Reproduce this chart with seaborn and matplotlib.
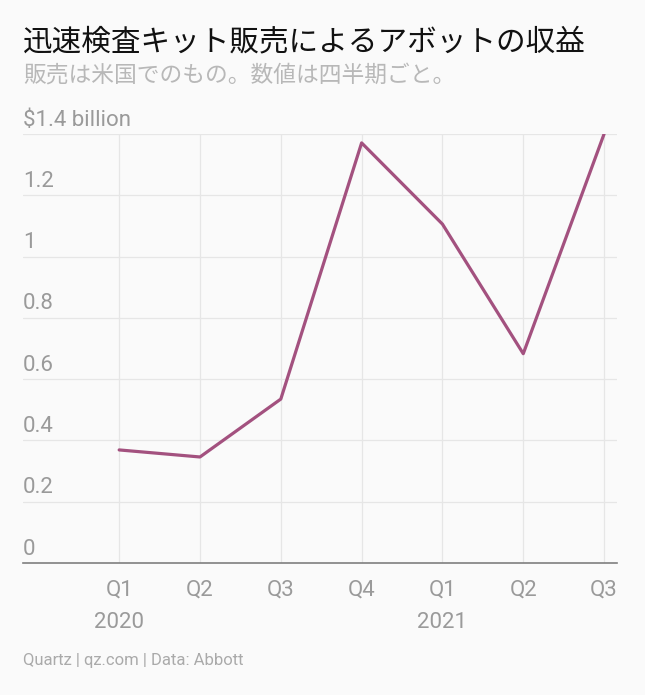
import matplotlib
matplotlib.use("Agg")
import matplotlib.pyplot as plt
import matplotlib.transforms as mtransforms
import seaborn as sns
import pandas as pd

quarters = ["Q1", "Q2", "Q3", "Q4", "Q1", "Q2", "Q3"]
years = ["2020", "", "", "", "2021", "", ""]
revenue = [0.369, 0.346, 0.535, 1.371, 1.106, 0.683, 1.40]
y_ticks = [0, 0.2, 0.4, 0.6, 0.8, 1.0, 1.2, 1.4]
y_tick_labels = ["0", "0.2", "0.4", "0.6", "0.8", "1", "1.2", "$1.4 billion"]

title = "迅速検査キット販売によるアボットの収益"
subtitle = "販売は米国でのもの。数値は四半期ごと。"
footer = "Quartz | qz.com | Data: Abbott"

bg = "#fafafa"
line_color = "#a3517f"
grid_color = "#e6e6e6"
label_color = "#9a9a9a"

sns.set_theme(style="white")
plt.rcParams["font.family"] = ["Roboto", "Noto Sans CJK JP", "DejaVu Sans"]

df = pd.DataFrame({"idx": list(range(len(revenue))), "revenue": revenue})

fig = plt.figure(figsize=(6.45, 6.95), dpi=100, facecolor=bg)
ax = fig.add_axes([23 / 645, 1 - 563 / 695, (617 - 23) / 645, (563 - 134) / 695])
ax.set_facecolor(bg)

sns.lineplot(data=df, x="idx", y="revenue", ax=ax, color=line_color, linewidth=2.3, zorder=3)

ax.set_xlim(-1.19, 6.16)
ax.set_ylim(0, 1.4)

# grid
for v in y_ticks[1:]:
    ax.axhline(v, color=grid_color, linewidth=0.9, zorder=1)
for i in range(len(quarters)):
    ax.axvline(i, color=grid_color, linewidth=0.9, zorder=1)

for s in ["top", "right", "left"]:
    ax.spines[s].set_visible(False)
ax.spines["bottom"].set_color("#7f7f7f")
ax.spines["bottom"].set_linewidth(1.2)
ax.spines["bottom"].set_zorder(4)

ax.set_yticks([])
ax.set_xticks(range(len(quarters)))
xlabels = [q + ("\n" + y if y else "") for q, y in zip(quarters, years)]
ax.set_xticklabels(xlabels, fontsize=16, color=label_color, linespacing=1.7)
ax.tick_params(axis="x", length=0, pad=12)
ax.set_xlabel("")
ax.set_ylabel("")

trans = mtransforms.blended_transform_factory(ax.transAxes, ax.transData)
for v, lab in zip(y_ticks, y_tick_labels):
    ax.text(0, v + 0.011, lab, transform=trans, ha="left", va="bottom",
            fontsize=16, color=label_color)

fig.text(23 / 645, 1 - 42 / 695, title, fontsize=21.3, color="#111111",
         ha="left", va="center", family=["Noto Sans CJK JP", "DejaVu Sans"])
fig.text(23 / 645, 1 - 75 / 695, subtitle, fontsize=16.4, color="#b8b8b8",
         ha="left", va="center", family=["Noto Sans CJK JP", "DejaVu Sans"])
fig.text(23 / 645, 1 - 661 / 695, footer, fontsize=12, color="#aaaaaa",
         ha="left", va="center")

fig.savefig("out.png", dpi=100, facecolor=bg)
